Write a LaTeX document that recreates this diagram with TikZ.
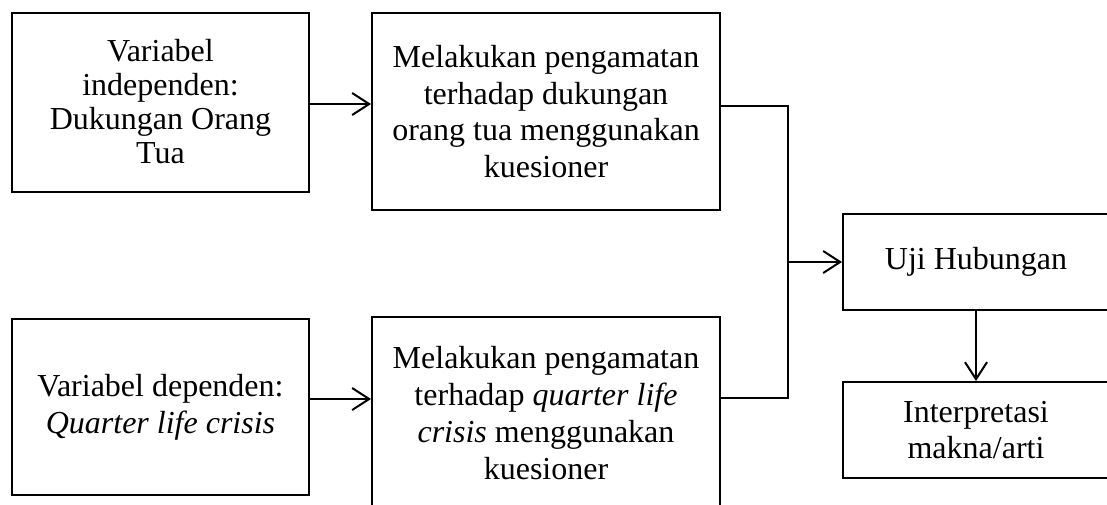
\documentclass[tikz,border=0pt]{standalone}
\usepackage{fontspec}
\setmainfont{Liberation Serif}
\usetikzlibrary{arrows.meta}

\tikzset{
  flowbox/.style={draw, line width=2pt, align=center, inner sep=0pt,
    font=\fontsize{32}{36.8}\selectfont},
  link/.style={line width=2pt},
  flowarrow/.style={link, -{Straight Barb[length=17pt,width=22pt,line width=2pt]}}
}

\begin{document}
\begin{tikzpicture}[x=1pt,y=-1pt]
  \useasboundingbox (0,0) rectangle (1107,504);
  \clip (0,0) rectangle (1107,504);

  % left column: the two variables
  \node[flowbox, minimum width=297pt, minimum height=179pt,
        font=\fontsize{32}{34}\selectfont] (b1) at (160.5,102)
    {Variabel\\independen:\\Dukungan Orang\\Tua};
  \node[flowbox, minimum width=297pt, minimum height=176pt] (b3) at (160.5,407)
    {Variabel dependen:\\\textit{Quarter life crisis}};

  % middle column: observation steps
  \node[flowbox, minimum width=348pt, minimum height=197pt] (b2) at (546,111.5)
    {Melakukan pengamatan\\terhadap dukungan\\orang tua menggunakan\\kuesioner};
  \node[flowbox, minimum width=348pt, minimum height=192pt] (b4) at (546,413)
    {Melakukan pengamatan\\terhadap \textit{quarter life}\\\textit{crisis} menggunakan\\kuesioner};

  % right column: analysis
  \node[flowbox, minimum width=266pt, minimum height=96pt] (b5) at (976,262)
    {Uji Hubungan};
  \node[flowbox, minimum width=266pt, minimum height=96pt] (b6) at (976,430)
    {Interpretasi\\makna/arti};

  % connectors
  \draw[flowarrow] ([yshift=-2pt]b1.east) -- ([yshift=-2pt]b1.east -| b2.west);
  \draw[flowarrow] ([yshift=8pt]b3.east) -- ([yshift=8pt]b3.east -| b4.west);

  \coordinate (bus) at (788,262);
  \draw[link] ([yshift=5.5pt]b2.east) -| (bus);
  \draw[link] ([yshift=15pt]b4.east) -| (bus);
  \draw[flowarrow] (bus) -- (b5.west);
  \draw[flowarrow] (b5.south) -- (b6.north);
\end{tikzpicture}
\end{document}
